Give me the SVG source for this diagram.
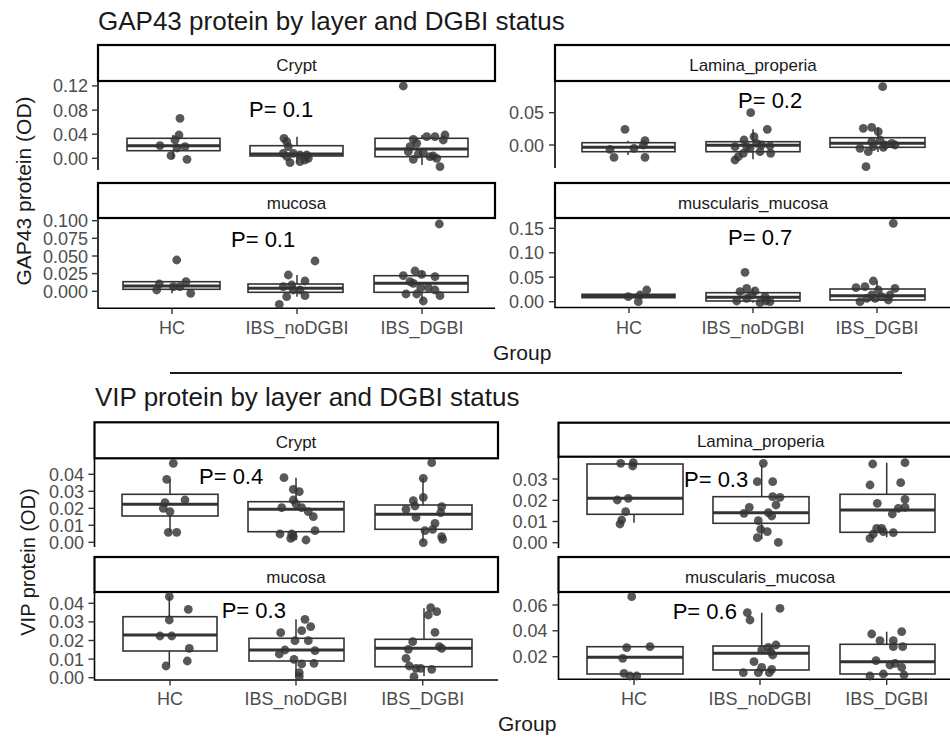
<svg xmlns="http://www.w3.org/2000/svg" xmlns:xlink="http://www.w3.org/1999/xlink" width="950" height="740" viewBox="0 0 950 740">
<style>
text{font-family:"Liberation Sans",Arial,sans-serif}
.title{font-size:26px;fill:#1a1a1a}
.atitle{font-size:21px;fill:#1a1a1a}
.yt{font-size:18px;fill:#4d4d4d;text-anchor:end}
.xt{font-size:18px;fill:#4d4d4d;text-anchor:middle}
.st{font-size:17px;fill:#1a1a1a;text-anchor:middle}
.pv{font-size:22px;fill:#000}
.strip{fill:#fff;stroke:#000;stroke-width:2.2}
.ax{stroke:#000;stroke-width:1.6;fill:none}
.tk{stroke:#333;stroke-width:1.4}
.box{fill:#fff;stroke:#333;stroke-width:1.6}
.med{stroke:#333;stroke-width:3}
.wh{stroke:#333;stroke-width:1.5}
</style>
<defs>
<circle id="d" r="4.4" fill="#333" fill-opacity="0.82"/>
</defs>
<rect width="950" height="740" fill="#fff"/>

<!-- ===== GAP43 ===== -->
<text class="title" x="98" y="30">GAP43 protein by layer and DGBI status</text>
<text class="atitle" transform="translate(31,191) rotate(-90)" text-anchor="middle">GAP43 protein (OD)</text>

<g id="gap43-crypt">
<rect class="strip" x="98" y="45" width="397" height="36"/>
<text class="st" x="296.5" y="71">Crypt</text>
<line class="ax" x1="98" y1="81" x2="98" y2="170"/>
<g class="tk"><line x1="92" y1="85.9" x2="98" y2="85.9"/><line x1="92" y1="110.1" x2="98" y2="110.1"/><line x1="92" y1="134.2" x2="98" y2="134.2"/><line x1="92" y1="158.3" x2="98" y2="158.3"/></g>
<text class="yt" x="88" y="92.4">0.12</text><text class="yt" x="88" y="116.6">0.08</text><text class="yt" x="88" y="140.7">0.04</text><text class="yt" x="88" y="164.8">0.00</text>
<!-- HC -->
<line class="wh" x1="173" y1="135" x2="173" y2="159"/>
<rect class="box" x="127" y="138.3" width="93" height="12.4"/><line class="med" x1="127" y1="145.7" x2="220" y2="145.7"/>
<!-- noDGBI -->
<line class="wh" x1="297" y1="136.7" x2="297" y2="162.7"/>
<rect class="box" x="250" y="145.7" width="93" height="10.3"/><line class="med" x1="250" y1="154" x2="343" y2="154"/>
<!-- DGBI -->
<line class="wh" x1="422" y1="135" x2="422" y2="165"/>
<rect class="box" x="375" y="138.3" width="93" height="18.4"/><line class="med" x1="375" y1="149" x2="468" y2="149"/>
<g>
<use href="#d" x="180" y="118.3"/><use href="#d" x="179" y="135"/><use href="#d" x="175" y="140"/><use href="#d" x="160" y="145.7"/><use href="#d" x="185" y="146.7"/><use href="#d" x="177" y="148"/><use href="#d" x="171" y="155.7"/><use href="#d" x="187" y="159.3"/>
<use href="#d" x="284" y="138.3"/><use href="#d" x="286.7" y="141.7"/><use href="#d" x="288.3" y="146.7"/><use href="#d" x="293.3" y="153.3"/><use href="#d" x="300" y="155"/><use href="#d" x="306.7" y="155"/><use href="#d" x="290" y="162.7"/><use href="#d" x="300" y="161.7"/><use href="#d" x="305" y="160"/><use href="#d" x="308.3" y="158.3"/><use href="#d" x="283.3" y="153.3"/><use href="#d" x="287" y="156.7"/>
<use href="#d" x="403.3" y="86"/><use href="#d" x="413.3" y="139.3"/><use href="#d" x="416.7" y="143.3"/><use href="#d" x="410" y="146.7"/><use href="#d" x="408.3" y="151.7"/><use href="#d" x="418.3" y="154"/><use href="#d" x="413.3" y="159.3"/><use href="#d" x="426.7" y="136.7"/><use href="#d" x="435" y="136.7"/><use href="#d" x="445" y="135"/><use href="#d" x="443.3" y="140"/><use href="#d" x="433.3" y="156"/><use href="#d" x="423.3" y="152.7"/><use href="#d" x="436.7" y="158.3"/><use href="#d" x="440" y="166.7"/><use href="#d" x="430" y="156.7"/>
</g>
<text class="pv" x="249" y="117">P= 0.1</text>
</g>

<g id="gap43-lamina">
<rect class="strip" x="555" y="45" width="400" height="36"/>
<text class="st" x="753" y="71">Lamina_properia</text>
<line class="ax" x1="555" y1="81" x2="555" y2="168"/>
<g class="tk"><line x1="549" y1="112.7" x2="555" y2="112.7"/><line x1="549" y1="145" x2="555" y2="145"/></g>
<text class="yt" x="544" y="119.2">0.05</text><text class="yt" x="544" y="151.5">0.00</text>
<line class="wh" x1="628" y1="140.7" x2="628" y2="155"/>
<rect class="box" x="582" y="142.7" width="93" height="9"/><line class="med" x1="582" y1="147.3" x2="675" y2="147.3"/>
<line class="wh" x1="753" y1="129.3" x2="753" y2="159.3"/>
<rect class="box" x="706" y="141.7" width="94" height="10"/><line class="med" x1="706" y1="145.3" x2="800" y2="145.3"/>
<line class="wh" x1="878" y1="127.3" x2="878" y2="152"/>
<rect class="box" x="830" y="137.7" width="95" height="9.6"/><line class="med" x1="830" y1="143.3" x2="925" y2="143.3"/>
<g>
<use href="#d" x="625" y="129.3"/><use href="#d" x="610" y="149.3"/><use href="#d" x="614" y="157.3"/><use href="#d" x="634" y="148.3"/><use href="#d" x="645" y="140.7"/><use href="#d" x="643.3" y="145"/><use href="#d" x="645" y="157.3"/>
<use href="#d" x="750.7" y="112.7"/><use href="#d" x="767.3" y="129.3"/><use href="#d" x="754" y="136.7"/><use href="#d" x="744" y="140"/><use href="#d" x="735" y="146.7"/><use href="#d" x="746.7" y="146.7"/><use href="#d" x="756.7" y="143.3"/><use href="#d" x="761.7" y="145"/><use href="#d" x="770" y="146"/><use href="#d" x="743.3" y="153.3"/><use href="#d" x="735" y="160"/><use href="#d" x="738.3" y="156.7"/><use href="#d" x="760" y="151.7"/><use href="#d" x="770.7" y="153.3"/><use href="#d" x="750" y="148.3"/>
<use href="#d" x="882.7" y="86.7"/><use href="#d" x="863.3" y="128.3"/><use href="#d" x="871.7" y="127.3"/><use href="#d" x="878.3" y="131.7"/><use href="#d" x="860" y="148.3"/><use href="#d" x="868.3" y="151.7"/><use href="#d" x="866" y="166.7"/><use href="#d" x="871.7" y="141.7"/><use href="#d" x="880" y="140"/><use href="#d" x="891.7" y="143.3"/><use href="#d" x="885" y="145"/><use href="#d" x="873.3" y="146.7"/><use href="#d" x="895" y="145"/><use href="#d" x="883.3" y="147.3"/>
</g>
<text class="pv" x="738" y="108">P= 0.2</text>
</g>

<g id="gap43-mucosa">
<rect class="strip" x="98" y="183" width="397" height="35"/>
<text class="st" x="296.5" y="208.5">mucosa</text>
<path class="ax" d="M98,218 V308.3 H495"/>
<g class="tk"><line x1="92" y1="220.7" x2="98" y2="220.7"/><line x1="92" y1="238.3" x2="98" y2="238.3"/><line x1="92" y1="256" x2="98" y2="256"/><line x1="92" y1="273.6" x2="98" y2="273.6"/><line x1="92" y1="291.3" x2="98" y2="291.3"/>
<line x1="172" y1="308.3" x2="172" y2="314"/><line x1="297" y1="308.3" x2="297" y2="314"/><line x1="422" y1="308.3" x2="422" y2="314"/></g>
<text class="yt" x="88" y="227.2">0.100</text><text class="yt" x="88" y="244.8">0.075</text><text class="yt" x="88" y="262.5">0.050</text><text class="yt" x="88" y="280.1">0.025</text><text class="yt" x="88" y="297.8">0.000</text>
<text class="xt" x="172" y="334.3">HC</text><text class="xt" x="297" y="334.3">IBS_noDGBI</text><text class="xt" x="422" y="334.3">IBS_DGBI</text>
<rect class="box" x="123" y="281.7" width="97" height="7.6"/><line class="med" x1="123" y1="286" x2="220" y2="286"/>
<line class="wh" x1="172" y1="289.3" x2="172" y2="293.3"/>
<line class="wh" x1="297" y1="275" x2="297" y2="296.7"/>
<rect class="box" x="248" y="284" width="95" height="8.3"/><line class="med" x1="248" y1="288.3" x2="343" y2="288.3"/>
<line class="wh" x1="422" y1="271" x2="422" y2="301"/>
<rect class="box" x="374" y="275.7" width="94" height="16.6"/><line class="med" x1="374" y1="283.3" x2="468" y2="283.3"/>
<g>
<use href="#d" x="176.7" y="260"/><use href="#d" x="159.3" y="284"/><use href="#d" x="156.7" y="290"/><use href="#d" x="180" y="286.7"/><use href="#d" x="186" y="281.7"/><use href="#d" x="190.7" y="293.3"/><use href="#d" x="173.3" y="286.7"/>
<use href="#d" x="315" y="261"/><use href="#d" x="288.3" y="275"/><use href="#d" x="305" y="281"/><use href="#d" x="291.7" y="285"/><use href="#d" x="286.7" y="296.7"/><use href="#d" x="279.3" y="304.3"/><use href="#d" x="305" y="295.7"/><use href="#d" x="300" y="290"/><use href="#d" x="293.3" y="290"/><use href="#d" x="283.3" y="286.7"/>
<use href="#d" x="439.3" y="224"/><use href="#d" x="415" y="271"/><use href="#d" x="421.7" y="274.3"/><use href="#d" x="403.3" y="275.7"/><use href="#d" x="435" y="276.7"/><use href="#d" x="410" y="281.7"/><use href="#d" x="420.7" y="287.7"/><use href="#d" x="428.3" y="287.7"/><use href="#d" x="435" y="290"/><use href="#d" x="406" y="294"/><use href="#d" x="416.7" y="294"/><use href="#d" x="440" y="295.7"/><use href="#d" x="423.3" y="301"/><use href="#d" x="413.3" y="283.3"/>
</g>
<text class="pv" x="231" y="247">P= 0.1</text>
</g>

<g id="gap43-muscularis">
<rect class="strip" x="555" y="183" width="400" height="35"/>
<text class="st" x="753" y="209">muscularis_mucosa</text>
<path class="ax" d="M555,218 V307.5 H955"/>
<g class="tk"><line x1="549" y1="228.3" x2="555" y2="228.3"/><line x1="549" y1="252.8" x2="555" y2="252.8"/><line x1="549" y1="277.2" x2="555" y2="277.2"/><line x1="549" y1="301.7" x2="555" y2="301.7"/>
<line x1="629" y1="307.5" x2="629" y2="313"/><line x1="753" y1="307.5" x2="753" y2="313"/><line x1="877" y1="307.5" x2="877" y2="313"/></g>
<text class="yt" x="544" y="234.8">0.15</text><text class="yt" x="544" y="259.3">0.10</text><text class="yt" x="544" y="283.7">0.05</text><text class="yt" x="544" y="308.2">0.00</text>
<text class="xt" x="629" y="334.3">HC</text><text class="xt" x="753" y="334.3">IBS_noDGBI</text><text class="xt" x="877" y="334.3">IBS_DGBI</text>
<rect class="box" x="582" y="294.3" width="93" height="3.4"/><line class="med" x1="582" y1="296" x2="675" y2="296"/>
<line class="wh" x1="753" y1="288.3" x2="753" y2="302.7"/>
<rect class="box" x="706" y="292.7" width="94" height="8.3"/><line class="med" x1="706" y1="297.3" x2="800" y2="297.3"/>
<line class="wh" x1="877" y1="281" x2="877" y2="301.7"/>
<rect class="box" x="830" y="289" width="95" height="11"/><line class="med" x1="830" y1="295.7" x2="925" y2="295.7"/>
<g>
<use href="#d" x="628.3" y="296.7"/><use href="#d" x="638.3" y="301.7"/><use href="#d" x="640" y="295"/><use href="#d" x="646.7" y="290"/>
<use href="#d" x="745" y="272.3"/><use href="#d" x="746.7" y="288.3"/><use href="#d" x="755" y="291"/><use href="#d" x="740" y="291.7"/><use href="#d" x="736.7" y="301"/><use href="#d" x="746.7" y="298.3"/><use href="#d" x="760" y="302.7"/><use href="#d" x="765" y="296.7"/><use href="#d" x="770" y="301.7"/><use href="#d" x="751.7" y="295"/><use href="#d" x="766" y="301"/>
<use href="#d" x="893.3" y="223.3"/><use href="#d" x="873.3" y="281"/><use href="#d" x="856" y="287.7"/><use href="#d" x="865" y="286.7"/><use href="#d" x="878.3" y="290"/><use href="#d" x="895" y="288.3"/><use href="#d" x="860" y="301.7"/><use href="#d" x="866.7" y="298.3"/><use href="#d" x="875" y="298.3"/><use href="#d" x="881.7" y="296.7"/><use href="#d" x="888.3" y="300"/><use href="#d" x="871.7" y="295"/><use href="#d" x="890" y="295"/>
</g>
<text class="pv" x="728" y="245">P= 0.7</text>
</g>

<text class="atitle" x="493" y="360">Group</text>
<line x1="170" y1="373" x2="902" y2="373" stroke="#1a1a1a" stroke-width="1.8"/>

<!-- ===== VIP ===== -->
<text class="title" x="95" y="406">VIP protein by layer and DGBI status</text>
<text class="atitle" transform="translate(35,562) rotate(-90)" text-anchor="middle" style="font-size:20px">VIP protein (OD)</text>

<g id="vip-crypt">
<rect class="strip" x="94.5" y="422.3" width="403.5" height="36"/>
<text class="st" x="296" y="448.3">Crypt</text>
<line class="ax" x1="94.5" y1="458.3" x2="94.5" y2="547"/>
<g class="tk"><line x1="88.5" y1="474.3" x2="94.5" y2="474.3"/><line x1="88.5" y1="491.3" x2="94.5" y2="491.3"/><line x1="88.5" y1="508.3" x2="94.5" y2="508.3"/><line x1="88.5" y1="525.3" x2="94.5" y2="525.3"/><line x1="88.5" y1="542.3" x2="94.5" y2="542.3"/></g>
<text class="yt" x="84" y="480.8">0.04</text><text class="yt" x="84" y="497.8">0.03</text><text class="yt" x="84" y="514.8">0.02</text><text class="yt" x="84" y="531.8">0.01</text><text class="yt" x="84" y="548.8">0.00</text>
<line class="wh" x1="170" y1="480" x2="170" y2="531.7"/>
<rect class="box" x="122" y="494.3" width="96" height="21.7"/><line class="med" x1="122" y1="504.3" x2="218" y2="504.3"/>
<line class="wh" x1="296" y1="477.7" x2="296" y2="540"/>
<rect class="box" x="248" y="501.7" width="96" height="30"/><line class="med" x1="248" y1="509.3" x2="344" y2="509.3"/>
<line class="wh" x1="423" y1="478.3" x2="423" y2="541.7"/>
<rect class="box" x="375" y="505" width="97" height="24.3"/><line class="med" x1="375" y1="514.3" x2="472" y2="514.3"/>
<g>
<use href="#d" x="173.3" y="463.3"/><use href="#d" x="166.7" y="479.3"/><use href="#d" x="185" y="500"/><use href="#d" x="165" y="502.7"/><use href="#d" x="163.3" y="508.3"/><use href="#d" x="170" y="511.7"/><use href="#d" x="168.3" y="532.3"/><use href="#d" x="176.7" y="532.3"/>
<use href="#d" x="284" y="477.7"/><use href="#d" x="293.3" y="489.3"/><use href="#d" x="299.3" y="491.7"/><use href="#d" x="293.3" y="500"/><use href="#d" x="296" y="504"/><use href="#d" x="281.7" y="507.7"/><use href="#d" x="301.7" y="507.7"/><use href="#d" x="308.3" y="511.7"/><use href="#d" x="313.3" y="516.7"/><use href="#d" x="280" y="534"/><use href="#d" x="291.7" y="534"/><use href="#d" x="290.7" y="538.3"/><use href="#d" x="306" y="540"/><use href="#d" x="315" y="530.7"/><use href="#d" x="293.3" y="536.7"/>
<use href="#d" x="431.7" y="462.7"/><use href="#d" x="423.3" y="478.3"/><use href="#d" x="423.3" y="497.3"/><use href="#d" x="413.3" y="500.7"/><use href="#d" x="406" y="509.3"/><use href="#d" x="415" y="506"/><use href="#d" x="416" y="517.3"/><use href="#d" x="441.7" y="506.7"/><use href="#d" x="440.7" y="512.7"/><use href="#d" x="435" y="523.3"/><use href="#d" x="432.7" y="529.3"/><use href="#d" x="425" y="530.7"/><use href="#d" x="441.7" y="536.7"/><use href="#d" x="442.7" y="539.3"/><use href="#d" x="423.3" y="542.7"/>
</g>
<text class="pv" x="199" y="484.3">P= 0.4</text>
</g>

<g id="vip-lamina">
<rect class="strip" x="558.5" y="422.7" width="400" height="34"/>
<text class="st" x="760.7" y="447.3">Lamina_properia</text>
<line class="ax" x1="558.5" y1="456.7" x2="558.5" y2="548"/>
<g class="tk"><line x1="552.5" y1="479" x2="558.5" y2="479"/><line x1="552.5" y1="500.3" x2="558.5" y2="500.3"/><line x1="552.5" y1="521.5" x2="558.5" y2="521.5"/><line x1="552.5" y1="542.7" x2="558.5" y2="542.7"/></g>
<text class="yt" x="547.5" y="485.5">0.03</text><text class="yt" x="547.5" y="506.8">0.02</text><text class="yt" x="547.5" y="528">0.01</text><text class="yt" x="547.5" y="549.2">0.00</text>
<line class="wh" x1="634" y1="514.3" x2="634" y2="522.7"/>
<rect class="box" x="587" y="464" width="96" height="50.3"/><line class="med" x1="587" y1="498.3" x2="683" y2="498.3"/>
<line class="wh" x1="761.7" y1="465" x2="761.7" y2="539.3"/>
<rect class="box" x="713" y="496.7" width="96" height="26.6"/><line class="med" x1="713" y1="512.7" x2="809" y2="512.7"/>
<line class="wh" x1="886.7" y1="462.7" x2="886.7" y2="537.3"/>
<rect class="box" x="840" y="494.3" width="95" height="38"/><line class="med" x1="840" y1="510" x2="935" y2="510"/>
<g>
<use href="#d" x="620.7" y="463.3"/><use href="#d" x="633.3" y="462.7"/><use href="#d" x="632.7" y="466"/><use href="#d" x="617.3" y="500"/><use href="#d" x="628.3" y="498.3"/><use href="#d" x="625.7" y="511.7"/><use href="#d" x="621.7" y="520"/><use href="#d" x="620" y="524"/>
<use href="#d" x="763.3" y="463.3"/><use href="#d" x="757.3" y="481.7"/><use href="#d" x="772.7" y="481.7"/><use href="#d" x="772.7" y="496.7"/><use href="#d" x="780" y="497.3"/><use href="#d" x="776" y="505"/><use href="#d" x="749.3" y="507.3"/><use href="#d" x="744" y="513.3"/><use href="#d" x="768.3" y="512.7"/><use href="#d" x="771.7" y="516"/><use href="#d" x="758.3" y="520.7"/><use href="#d" x="760.7" y="529.3"/><use href="#d" x="767.3" y="531.7"/><use href="#d" x="757.3" y="537.7"/><use href="#d" x="778.3" y="542.3"/>
<use href="#d" x="872.7" y="464"/><use href="#d" x="905" y="462.7"/><use href="#d" x="870" y="485"/><use href="#d" x="900.7" y="482.7"/><use href="#d" x="877.3" y="503.3"/><use href="#d" x="905" y="499.3"/><use href="#d" x="905" y="507.3"/><use href="#d" x="898.3" y="508.3"/><use href="#d" x="892.3" y="514"/><use href="#d" x="876.7" y="528.3"/><use href="#d" x="881.7" y="528.3"/><use href="#d" x="873.3" y="534"/><use href="#d" x="870" y="538.3"/><use href="#d" x="893.3" y="532.7"/><use href="#d" x="883.3" y="531.7"/>
</g>
<text class="pv" x="684" y="486.7">P= 0.3</text>
</g>

<g id="vip-mucosa">
<rect class="strip" x="94.5" y="557" width="403.5" height="35"/>
<text class="st" x="296" y="583.3">mucosa</text>
<path class="ax" d="M94.5,592 V680 H498"/>
<g class="tk"><line x1="88.5" y1="603.3" x2="94.5" y2="603.3"/><line x1="88.5" y1="621.9" x2="94.5" y2="621.9"/><line x1="88.5" y1="640.5" x2="94.5" y2="640.5"/><line x1="88.5" y1="659.1" x2="94.5" y2="659.1"/><line x1="88.5" y1="677.7" x2="94.5" y2="677.7"/>
<line x1="170" y1="680" x2="170" y2="685.5"/><line x1="296" y1="680" x2="296" y2="685.5"/><line x1="422.7" y1="680" x2="422.7" y2="685.5"/></g>
<text class="yt" x="84" y="609.8">0.04</text><text class="yt" x="84" y="628.4">0.03</text><text class="yt" x="84" y="647">0.02</text><text class="yt" x="84" y="665.6">0.01</text><text class="yt" x="84" y="684.2">0.00</text>
<text class="xt" x="170" y="705">HC</text><text class="xt" x="296" y="705">IBS_noDGBI</text><text class="xt" x="422.7" y="705">IBS_DGBI</text>
<line class="wh" x1="169.3" y1="596.7" x2="169.3" y2="665"/>
<rect class="box" x="123" y="616.7" width="94" height="34.3"/><line class="med" x1="123" y1="635" x2="217" y2="635"/>
<line class="wh" x1="296" y1="619.3" x2="296" y2="676.7"/>
<rect class="box" x="249" y="638.3" width="95" height="22.7"/><line class="med" x1="249" y1="650" x2="344" y2="650"/>
<line class="wh" x1="424" y1="608.3" x2="424" y2="676"/>
<rect class="box" x="375" y="639.3" width="97" height="27.4"/><line class="med" x1="375" y1="648.3" x2="472" y2="648.3"/>
<g>
<use href="#d" x="169.3" y="596.7"/><use href="#d" x="188.3" y="609.3"/><use href="#d" x="169.3" y="620"/><use href="#d" x="160" y="636"/><use href="#d" x="171.7" y="636"/><use href="#d" x="189.3" y="648.3"/><use href="#d" x="187.3" y="661"/><use href="#d" x="166" y="666"/>
<use href="#d" x="305" y="619.3"/><use href="#d" x="310.7" y="626.7"/><use href="#d" x="301.7" y="630.7"/><use href="#d" x="280.7" y="632.7"/><use href="#d" x="295" y="640.7"/><use href="#d" x="308.3" y="640.7"/><use href="#d" x="285" y="650"/><use href="#d" x="315" y="650.7"/><use href="#d" x="279.3" y="654"/><use href="#d" x="294" y="659.3"/><use href="#d" x="301.7" y="664"/><use href="#d" x="314" y="663.3"/><use href="#d" x="299.3" y="672.7"/><use href="#d" x="299.3" y="676.7"/>
<use href="#d" x="430.7" y="607.7"/><use href="#d" x="436.7" y="611.7"/><use href="#d" x="428.3" y="615"/><use href="#d" x="435" y="632.3"/><use href="#d" x="412.7" y="641.7"/><use href="#d" x="408.3" y="649.3"/><use href="#d" x="439.3" y="646.7"/><use href="#d" x="441.7" y="648.3"/><use href="#d" x="406" y="658.3"/><use href="#d" x="409.3" y="666"/><use href="#d" x="416" y="668.3"/><use href="#d" x="420.7" y="668.3"/><use href="#d" x="431.7" y="669.3"/><use href="#d" x="414" y="676.7"/>
</g>
<text class="pv" x="221.7" y="618.3">P= 0.3</text>
</g>

<g id="vip-muscularis">
<rect class="strip" x="558.5" y="557" width="400" height="35"/>
<text class="st" x="760" y="583.3">muscularis_mucosa</text>
<path class="ax" d="M558.5,592 V679.3 H955"/>
<g class="tk"><line x1="552.5" y1="605" x2="558.5" y2="605"/><line x1="552.5" y1="630.8" x2="558.5" y2="630.8"/><line x1="552.5" y1="656.7" x2="558.5" y2="656.7"/>
<line x1="634" y1="679.3" x2="634" y2="685"/><line x1="760" y1="679.3" x2="760" y2="685"/><line x1="886.7" y1="679.3" x2="886.7" y2="685"/></g>
<text class="yt" x="547.5" y="611.5">0.06</text><text class="yt" x="547.5" y="637.3">0.04</text><text class="yt" x="547.5" y="663.2">0.02</text>
<text class="xt" x="634" y="705">HC</text><text class="xt" x="760" y="705">IBS_noDGBI</text><text class="xt" x="886.7" y="705">IBS_DGBI</text>
<line class="wh" x1="634" y1="674" x2="634" y2="676"/>
<rect class="box" x="587" y="646.7" width="96" height="27.3"/><line class="med" x1="587" y1="657.3" x2="683" y2="657.3"/>
<line class="wh" x1="761.7" y1="612.7" x2="761.7" y2="673"/>
<rect class="box" x="713" y="646" width="96" height="24"/><line class="med" x1="713" y1="653.3" x2="809" y2="653.3"/>
<line class="wh" x1="886.7" y1="631.7" x2="886.7" y2="676"/>
<rect class="box" x="840" y="644.3" width="95" height="29.7"/><line class="med" x1="840" y1="661.7" x2="935" y2="661.7"/>
<g>
<use href="#d" x="631.7" y="596.7"/><use href="#d" x="626.7" y="647.7"/><use href="#d" x="650" y="646.7"/><use href="#d" x="622.7" y="658.3"/><use href="#d" x="624" y="673.3"/><use href="#d" x="630" y="676"/><use href="#d" x="636.7" y="676"/>
<use href="#d" x="780" y="608.3"/><use href="#d" x="747.3" y="612.7"/><use href="#d" x="750" y="620"/><use href="#d" x="776" y="645"/><use href="#d" x="768.3" y="647.3"/><use href="#d" x="761.7" y="650"/><use href="#d" x="770.7" y="651.7"/><use href="#d" x="772.7" y="655"/><use href="#d" x="754" y="661.7"/><use href="#d" x="761.7" y="667.3"/><use href="#d" x="771.7" y="669.3"/><use href="#d" x="743.3" y="672.7"/><use href="#d" x="758.3" y="672.7"/><use href="#d" x="769.3" y="672.7"/>
<use href="#d" x="871.7" y="634"/><use href="#d" x="901.7" y="631.7"/><use href="#d" x="880" y="640.7"/><use href="#d" x="893.3" y="640.7"/><use href="#d" x="902.7" y="646.7"/><use href="#d" x="893.3" y="646.7"/><use href="#d" x="876" y="660.7"/><use href="#d" x="895" y="663.3"/><use href="#d" x="901.7" y="667.3"/><use href="#d" x="870" y="676"/><use href="#d" x="883.3" y="674"/><use href="#d" x="904" y="675"/><use href="#d" x="890" y="665"/>
</g>
<text class="pv" x="672.7" y="619.3">P= 0.6</text>
</g>

<text class="atitle" x="498" y="731">Group</text>
</svg>
